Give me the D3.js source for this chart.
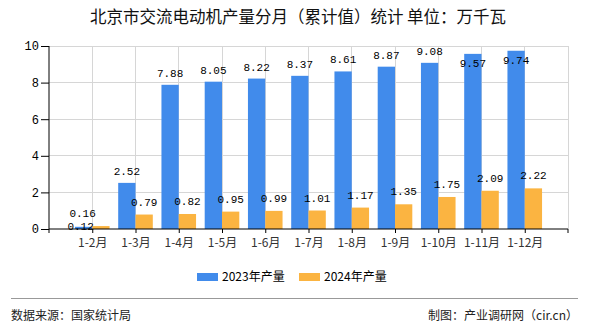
<!DOCTYPE html>
<html><head><meta charset="utf-8">
<script src="https://cdn.jsdelivr.net/npm/d3@7"></script>
<style>body{margin:0;background:#fff}svg{display:block}</style>
</head><body>
<svg id="c" width="590" height="330"></svg>
<script>
const categories = ["1-2月","1-3月","1-4月","1-5月","1-6月","1-7月","1-8月","1-9月","1-10月","1-11月","1-12月"];
const values2023 = [0.12,2.52,7.88,8.05,8.22,8.37,8.61,8.87,9.08,9.57,9.74];
const values2024 = [0.16,0.79,0.82,0.95,0.99,1.01,1.17,1.35,1.75,2.09,2.22];
const yTicks = [0,2,4,6,8,10];
const seriesNames = ["2023年产量","2024年产量"];
const colors = ["#418BEB","#FBB441"];

const svg = d3.select("#c");
const L=49, R=568, T=46, B=229;
const x = d3.scalePoint().domain(categories).range([L,R]).padding(1);
const y = d3.scaleLinear().domain([0,10]).range([B,T]);
const bw = x.step()*0.4;
const cjk = "'Noto Sans CJK SC', sans-serif";
const mono = "'Liberation Mono', 'DejaVu Sans Mono', monospace";

svg.append("text").attr("x",298).attr("y",23).attr("text-anchor","middle")
  .attr("font-family",cjk).attr("font-size",16.5).attr("fill","#111")
  .text("北京市交流电动机产量分月（累计值）统计 单位：万千瓦");

// grid
const g = svg.append("g");
g.selectAll(".hg").data(yTicks.filter(d=>d>0)).join("line")
  .attr("x1",L).attr("x2",R).attr("y1",d=>y(d)).attr("y2",d=>y(d))
  .attr("stroke","#d6d6d6").attr("stroke-width",1).attr("shape-rendering","crispEdges");
g.selectAll(".vg").data(categories).join("line")
  .attr("x1",d=>x(d)).attr("x2",d=>x(d)).attr("y1",T).attr("y2",B)
  .attr("stroke","#d6d6d6").attr("shape-rendering","crispEdges");
g.append("line").attr("x1",R).attr("x2",R).attr("y1",T).attr("y2",B)
  .attr("stroke","#d6d6d6").attr("shape-rendering","crispEdges");

// bars
const data = categories.map((c,i)=>({c, v:[values2023[i],values2024[i]]}));
[0,1].forEach(s=>{
  svg.append("g").selectAll("rect").data(data).join("rect")
    .attr("x",d=>x(d.c)+(s===0?-bw:0)).attr("width",bw)
    .attr("y",d=>y(d.v[s])).attr("height",d=>B-y(d.v[s]))
    .attr("fill",colors[s]);
});

// axes
const ya = svg.append("g").attr("transform",`translate(${L},0)`)
  .call(d3.axisLeft(y).tickValues(yTicks).tickSize(8).tickPadding(2).tickFormat(d3.format("d")));
ya.select(".domain").attr("stroke","#000").attr("d",`M0,${T}V${B}`);
ya.selectAll("line").attr("stroke","#000");
ya.selectAll("text").attr("font-family",mono).attr("font-size",12).attr("fill","#000");

const xa = svg.append("g").attr("transform",`translate(0,${B})`)
  .call(d3.axisBottom(x).tickSize(4).tickPadding(5));
xa.select(".domain").attr("stroke","#000").attr("d",`M${L},0H${R}`);
xa.selectAll("line").attr("stroke","#000");
xa.append("line").attr("x1",L).attr("x2",L).attr("y1",0).attr("y2",4).attr("stroke","#000");
xa.append("line").attr("x1",R).attr("x2",R).attr("y1",0).attr("y2",4).attr("stroke","#000");
xa.selectAll("text").attr("font-family",cjk).attr("font-size",12).attr("fill","#333");

// value labels
const labels = [];
data.forEach(d=>{
  const tb = y(d.v[0]), to = y(d.v[1]);
  let lb = {x:x(d.c)-bw/2, y: (tb-12<T) ? tb+13 : tb-8, t:d.v[0].toFixed(2)};
  let lo = {x:x(d.c)+bw/2, y: (to-12<T) ? to+13 : to-9, t:d.v[1].toFixed(2)};
  const w = 24;
  if (Math.abs(lb.y-lo.y)<12 && Math.abs(lb.x-lo.x)<w){
    lo.x = lb.x-1; lo.y = Math.min(lb.y,lo.y);
    lb.x = lb.x-3; lb.y = tb+3;
  }
  labels.push(lb,lo);
});
svg.append("g").selectAll("text").data(labels).join("text")
  .attr("x",d=>d.x).attr("y",d=>d.y).attr("text-anchor","middle")
  .attr("font-family",mono).attr("font-size",11).attr("fill","#000").text(d=>d.t);

// legend
const lg = svg.append("g");
const lx = [197,299];
seriesNames.forEach((n,i)=>{
  lg.append("rect").attr("x",lx[i]).attr("y",273).attr("width",21).attr("height",8).attr("fill",colors[i]);
  lg.append("text").attr("x",lx[i]+25).attr("y",281).attr("font-family",cjk).attr("font-size",12)
    .attr("fill","#000").text(n);
});

// footer
svg.append("line").attr("x1",11).attr("x2",578).attr("y1",298.5).attr("y2",298.5).attr("stroke","#999");
svg.append("text").attr("x",11).attr("y",320).attr("font-family",cjk).attr("font-size",12).attr("fill","#222").text("数据来源：国家统计局");
svg.append("text").attr("x",578).attr("y",320).attr("text-anchor","end").attr("font-family",cjk).attr("font-size",12).attr("fill","#222").text("制图：产业调研网（cir.cn）");
</script>
</body></html>
